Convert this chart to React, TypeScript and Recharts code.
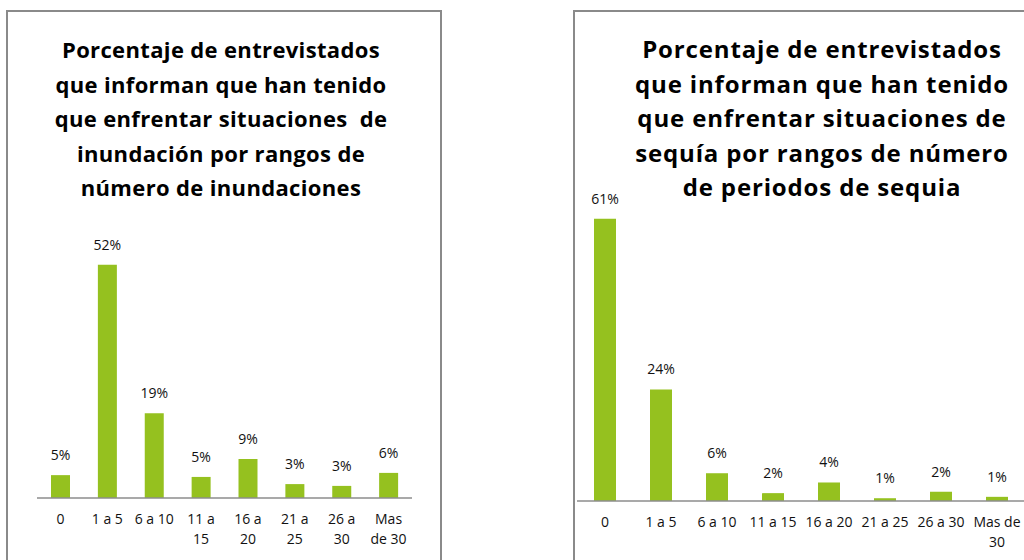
import React from "react";
import { Bar, BarChart, XAxis, YAxis, LabelList } from "recharts";

// Inundaciones (left panel)
const floodCategories = ["0", "1 a 5", "6 a 10", "11 a\n15", "16 a\n20", "21 a\n25", "26 a\n30", "Mas\nde 30"];
const floodValues = [5.1, 52, 18.9, 4.7, 8.7, 3.1, 2.7, 5.6];
const floodTitle = [
  "Porcentaje de entrevistados",
  "que informan que han tenido",
  "que enfrentar situaciones\u00a0 de",
  "inundación por rangos de",
  "número de inundaciones",
];

// Sequía (right panel)
const droughtCategories = ["0", "1 a 5", "6 a 10", "11 a 15", "16 a 20", "21 a 25", "26 a 30", "Mas de\n30"];
const droughtValues = [61, 24.1, 6, 1.7, 4, 0.6, 2, 0.9];
const droughtTitle = [
  "Porcentaje de entrevistados",
  "que informan que han tenido",
  "que enfrentar situaciones de",
  "sequía por rangos de número",
  "de periodos de sequia",
];

const BAR_COLOR = "#95c11f";
const AXIS_COLOR = "#8c8c8c";
const FONT = "'Open Sans', 'Noto Sans', sans-serif";

const CategoryTick = (props: any) => {
  const { x, y, payload } = props;
  const lines = String(payload.value).split("\n");
  return (
    <text x={x} y={y} textAnchor="middle" fontFamily={FONT} fontSize={14} fill="#111">
      {lines.map((line, i) => (
        <tspan key={i} x={x} y={y + 26 + i * 20}>
          {line}
        </tspan>
      ))}
    </text>
  );
};

const pct = (v: any) => `${Math.round(Number(v))}%`;

function Title({ lines, left, width, fontSize, spacing }: { lines: string[]; left: number; width: number; fontSize: number; spacing: number }) {
  return (
    <div
      style={{
        position: "absolute",
        left,
        top: 32,
        width,
        textAlign: "center",
        fontFamily: FONT,
        fontWeight: 700,
        fontSize,
        letterSpacing: spacing,
        lineHeight: "34.5px",
        color: "#000",
        whiteSpace: "pre",
      }}
    >
      {lines.map((l, i) => (
        <div key={i}>{l}</div>
      ))}
    </div>
  );
}

export default function App() {
  const floodData = floodCategories.map((name, i) => ({ name, value: floodValues[i] }));
  const droughtData = droughtCategories.map((name, i) => ({ name, value: droughtValues[i] }));

  return (
    <div
      style={{
        position: "absolute",
        left: 0,
        top: 0,
        width: 1024,
        height: 560,
        overflow: "hidden",
        background: "#fff",
      }}
    >
      {/* panel frames */}
      <div style={{ position: "absolute", left: 6, top: 10, width: 432, height: 600, border: "2px solid #8a8a8a" }} />
      <div style={{ position: "absolute", left: 573, top: 10, width: 494, height: 600, border: "2px solid #8a8a8a" }} />

      <Title lines={floodTitle} left={21} width={400} fontSize={22} spacing={0.35} />
      <Title lines={droughtTitle} left={622} width={400} fontSize={24} spacing={0.85} />

      <div style={{ position: "absolute", left: 0, top: 0 }}>
        <BarChart width={440} height={560} data={floodData} margin={{ top: 229, right: 28, left: 37, bottom: 12 }}>
          <XAxis
            dataKey="name"
            interval={0}
            height={50}
            tickSize={0}
            tickMargin={0}
            tickLine={false}
            axisLine={{ stroke: AXIS_COLOR, strokeWidth: 1.5 }}
            tick={<CategoryTick />}
          />
          <YAxis hide domain={[0, 60]} />
          <Bar dataKey="value" fill={BAR_COLOR} barSize={19} isAnimationActive={false}>
            <LabelList dataKey="value" position="top" offset={15} formatter={pct} fontFamily={FONT} fontSize={14} fill="#111" />
          </Bar>
        </BarChart>
      </div>

      <div style={{ position: "absolute", left: 560, top: 0 }}>
        <BarChart width={470} height={560} data={droughtData} margin={{ top: 177, right: 5, left: 17, bottom: 9 }}>
          <XAxis
            dataKey="name"
            interval={0}
            height={50}
            tickSize={0}
            tickMargin={0}
            tickLine={false}
            axisLine={{ stroke: AXIS_COLOR, strokeWidth: 1.5 }}
            tick={<CategoryTick />}
          />
          <YAxis hide domain={[0, 70]} />
          <Bar dataKey="value" fill={BAR_COLOR} barSize={22} isAnimationActive={false}>
            <LabelList dataKey="value" position="top" offset={15} formatter={pct} fontFamily={FONT} fontSize={14} fill="#111" />
          </Bar>
        </BarChart>
      </div>
    </div>
  );
}
